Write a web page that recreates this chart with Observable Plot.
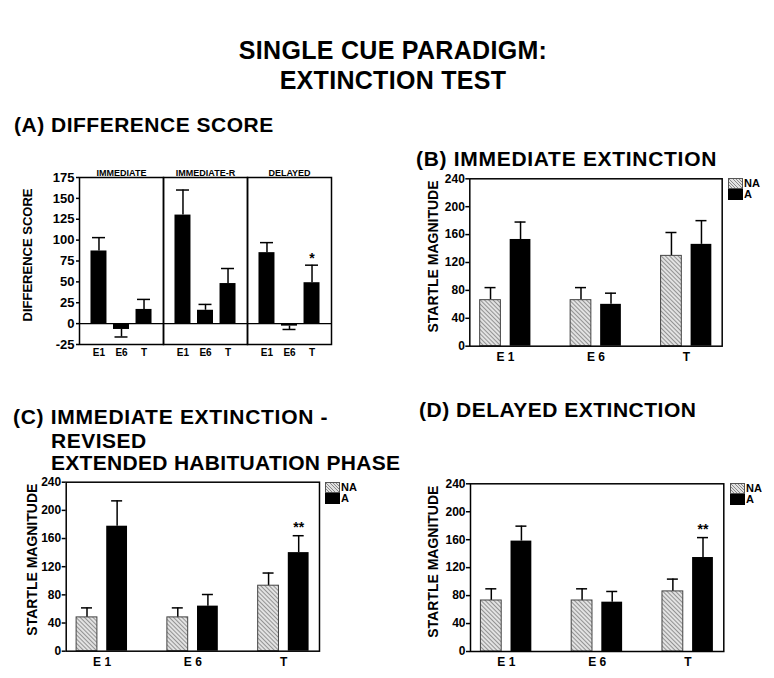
<!DOCTYPE html>
<html><head><meta charset="utf-8">
<script src="https://cdn.jsdelivr.net/npm/d3@7"></script>
<script src="https://cdn.jsdelivr.net/npm/@observablehq/plot@0.6"></script>
<style>
body{margin:0;background:#fff;}
#root{position:relative;width:774px;height:678px;font-family:"Liberation Sans",Arial,sans-serif;font-weight:bold;color:#000;overflow:hidden;background:#fff}
.t{position:absolute;white-space:nowrap;line-height:1;font-weight:bold;letter-spacing:0.5px}
.panel{position:absolute}
.legend{position:absolute;font-size:11px;font-weight:bold}
.legend .row{height:11px;line-height:11px;white-space:nowrap;overflow:visible}
.sw{display:inline-block;width:15px;height:11px;vertical-align:top;margin-right:1px;box-sizing:border-box}
.sw.hatch{border:1px solid #555;background:repeating-linear-gradient(45deg,#e2e2e2 0 1.6px,#8a8a8a 1.6px 2.3px)}
.sw.solid{background:#000}
</style></head>
<body>
<svg width="0" height="0" style="position:absolute"><defs>
<pattern id="hatch" patternUnits="userSpaceOnUse" width="3" height="3" patternTransform="rotate(-45)">
<rect width="3" height="3" fill="#e2e2e2"/><line x1="0.5" y1="0" x2="0.5" y2="3" stroke="#8a8a8a" stroke-width="0.9"/>
</pattern></defs></svg>
<div id="root"></div>
<script>
// ---------- DATA ----------
// Panel A: difference scores (mean and SEM), per condition, phases E1, E6, T
const diffConditions = ["IMMEDIATE", "IMMEDIATE-R", "DELAYED"];
const diffPhases = ["E1", "E6", "T"];
const diffImmediate = [87, -7, 17];
const diffImmediateSem = [16, 9, 12];
const diffImmediateR = [130, 16, 48];
const diffImmediateRSem = [30, 7, 18];
const diffDelayed = [85, -3, 49];
const diffDelayedSem = [12, 4, 21];
const diffDelayedStars = ["", "", "*"];
const diffTicks = [-25, 0, 25, 50, 75, 100, 125, 150, 175];

// Panels B-D: startle magnitude (mean and SEM), groups E 1, E 6, T; series NA and A
const startleGroups = ["E 1", "E 6", "T"];
const seriesNames = ["NA", "A"];
const startleTicks = [0, 40, 80, 120, 160, 200, 240];
// (B) Immediate extinction
const bNA = [66, 66, 129.5];
const bNASem = [18, 18, 33.5];
const bA = [153, 60, 146];
const bASem = [25, 16, 34];
const bStars = ["", "", ""];
// (C) Immediate extinction - revised
const cNA = [48, 48, 93];
const cNASem = [13.5, 13.5, 18];
const cA = [177.5, 64, 140];
const cASem = [36, 16.5, 24];
const cStars = ["", "", "**"];
// (D) Delayed extinction
const dNA = [73, 73, 86];
const dNASem = [16.7, 16.7, 17.6];
const dA = [158, 70.6, 134.5];
const dASem = [21.4, 15.3, 28.5];
const dStars = ["", "", "**"];

// ---------- LAYOUT ----------
const root = document.getElementById("root");
const FONT = "'Liberation Sans', Arial, sans-serif";
function addText(txt, left, top, size, extra) {
  const d = document.createElement("div");
  d.className = "t";
  d.textContent = txt;
  d.style.left = left + "px"; d.style.top = top + "px"; d.style.fontSize = size + "px";
  if (extra) Object.assign(d.style, extra);
  root.appendChild(d);
}
// Title
addText("SINGLE CUE PARADIGM:", 0, 38, 25, {width: "786px", textAlign: "center", letterSpacing: "0.3px"});
addText("EXTINCTION TEST", 0, 68, 25, {width: "786px", textAlign: "center", letterSpacing: "0.3px"});
// Panel headers
addText("(A) DIFFERENCE SCORE", 14, 114, 21);
addText("(B) IMMEDIATE EXTINCTION", 416, 148, 21, {letterSpacing: "0.7px"});
addText("(C) IMMEDIATE EXTINCTION -", 13, 406, 21, {letterSpacing: "0.7px"});
addText("REVISED", 51, 430, 21);
addText("EXTENDED HABITUATION PHASE", 51, 452, 21, {letterSpacing: "0.3px"});
addText("(D) DELAYED EXTINCTION", 419, 399, 21);

function place(el, left, top) {
  const w = document.createElement("div");
  w.className = "panel"; w.style.left = left + "px"; w.style.top = top + "px";
  w.appendChild(el); root.appendChild(w);
}
function legend(left, top) {
  const d = document.createElement("div");
  d.className = "legend"; d.style.left = left + "px"; d.style.top = top + "px";
  seriesNames.forEach((s, i) => {
    const r = document.createElement("div"); r.className = "row";
    const sw = document.createElement("span"); sw.className = "sw " + (i === 0 ? "hatch" : "solid");
    r.appendChild(sw); r.appendChild(document.createTextNode(s));
    d.appendChild(r);
  });
  root.appendChild(d);
}
const baseStyle = {fontFamily: FONT, fontWeight: "bold", color: "#000", background: "transparent", overflow: "visible"};

// ---------- PANEL A ----------
const diffMeans = [diffImmediate, diffImmediateR, diffDelayed];
const diffSems = [diffImmediateSem, diffImmediateRSem, diffDelayedSem];
const diffStars = [["", "", ""], ["", "", ""], diffDelayedStars];
const diffRows = diffConditions.flatMap((c, ci) => diffPhases.map((p, pi) => ({
  cond: c, phase: p, mean: diffMeans[ci][pi], sem: diffSems[ci][pi], star: diffStars[ci][pi]
})));
const tipA = d => d.mean + Math.sign(d.mean) * d.sem;
const panelA = Plot.plot({
  width: 340, height: 220, marginLeft: 79, marginRight: 9, marginTop: 27, marginBottom: 26,
  style: baseStyle,
  fx: {domain: diffConditions, padding: 0, round: false, label: null},
  x: {domain: diffPhases, paddingInner: 0.29, paddingOuter: 0.51, round: false, label: null},
  y: {domain: [-25, 175], label: null},
  marks: [
    Plot.ruleY([0], {stroke: "#000", strokeWidth: 1.2}),
    Plot.ruleX(diffRows, {fx: "cond", x: "phase", y1: "mean", y2: tipA, stroke: "#000", strokeWidth: 1.5}),
    Plot.tickY(diffRows, {fx: "cond", x: "phase", y: tipA, insetLeft: 1.5, insetRight: 1.5, stroke: "#000", strokeWidth: 1.5}),
    Plot.barY(diffRows, {fx: "cond", x: "phase", y: "mean", fill: "#000"}),
    Plot.text(diffRows.filter(d => d.star), {fx: "cond", x: "phase", y: tipA, text: "star", dy: -7, fontSize: 14}),
    Plot.frame({stroke: "#000", strokeWidth: 1.5}),
    Plot.axisY({ticks: diffTicks, tickFormat: d => String(d), tickSize: 3, tickPadding: 2, fontSize: 13, label: null, strokeWidth: 1.5}),
    Plot.axisX({tickSize: 0, tickPadding: 4, fontSize: 10, label: null}),
    Plot.axisFx({anchor: "top", tickSize: 0, tickPadding: 2, fontSize: 9, label: null}),
    Plot.text([{cond: diffConditions[0], t: "DIFFERENCE SCORE"}], {fx: "cond", text: "t", frameAnchor: "left", textAnchor: "middle", rotate: -90, dx: -52, dy: -6, fontSize: 13})
  ]
});
place(panelA, 0, 150);

// ---------- PANELS B-D ----------
function startlePanel(cfg) {
  const {na, naSem, a, aSem, stars, width, mL, mR, mT, mB, plotH, labelDx, labelDy} = cfg;
  const rows = [];
  startleGroups.forEach((g, i) => {
    rows.push({group: g, series: seriesNames[0], mean: na[i], sem: naSem[i], star: ""});
    rows.push({group: g, series: seriesNames[1], mean: a[i], sem: aSem[i], star: stars[i]});
  });
  const NA = rows.filter(d => d.series === seriesNames[0]);
  const A = rows.filter(d => d.series === seriesNames[1]);
  const plotW = width - mL - mR;
  const padIn = 0.21;
  const bw = plotW / (3 - padIn) * (1 - padIn);
  const m = 0.145 * bw, b = 0.29 * bw, g = 0.13 * bw;
  const off = bw / 2 - m - b / 2;
  const capIn = (bw - 11) / 2;
  const tip = d => d.mean + d.sem;
  const err = (data, dx) => [
    Plot.ruleX(data, {x: "group", y1: "mean", y2: tip, dx, stroke: "#000", strokeWidth: 1.5}),
    Plot.tickY(data, {x: "group", y: tip, dx, insetLeft: capIn, insetRight: capIn, stroke: "#000", strokeWidth: 1.5})
  ];
  return Plot.plot({
    width, height: mT + plotH + mB, marginLeft: mL, marginRight: mR, marginTop: mT, marginBottom: mB,
    style: baseStyle,
    x: {domain: startleGroups, paddingInner: padIn, paddingOuter: 0, round: false, label: null},
    y: {domain: [0, 240], label: null},
    marks: [
      ...err(NA, -off), ...err(A, off),
      Plot.barY(NA, {x: "group", y: "mean", fill: "url(#hatch)", stroke: "#444", strokeWidth: 1, insetLeft: m, insetRight: bw - m - b}),
      Plot.barY(A, {x: "group", y: "mean", fill: "#000", insetLeft: m + b + g, insetRight: m}),
      Plot.text(A.filter(d => d.star), {x: "group", y: tip, text: "star", dx: off, dy: -8, fontSize: 14}),
      Plot.frame({stroke: "#000", strokeWidth: 1.5}),
      Plot.axisY({ticks: startleTicks, tickSize: 4, tickPadding: 1, fontSize: 12, label: null, strokeWidth: 1.5}),
      Plot.axisX({tickSize: 0, tickPadding: 6, fontSize: 12, label: null}),
      Plot.text(["STARTLE MAGNITUDE"], {frameAnchor: "left", textAnchor: "middle", rotate: -90, dx: labelDx, dy: labelDy, fontSize: 14})
    ]
  });
}
place(startlePanel({na: bNA, naSem: bNASem, a: bA, aSem: bASem, stars: bStars,
  width: 337, mL: 79.3, mR: 5.3, mT: 10.3, plotH: 167.4, mB: 28, labelDx: -36, labelDy: -6}), 390, 168);
legend(728, 178);
place(startlePanel({na: cNA, naSem: cNASem, a: cA, aSem: cASem, stars: cStars,
  width: 324, mL: 65.7, mR: 5, mT: 11.7, plotH: 169, mB: 25, labelDx: -34, labelDy: -7}), 0, 470);
legend(325, 482);
place(startlePanel({na: dNA, naSem: dNASem, a: dA, aSem: dASem, stars: dStars,
  width: 337, mL: 80, mR: 3.7, mT: 11.3, plotH: 167.7, mB: 25, labelDx: -37, labelDy: -6}), 390, 472);
legend(730, 483);
</script>
</body></html>
